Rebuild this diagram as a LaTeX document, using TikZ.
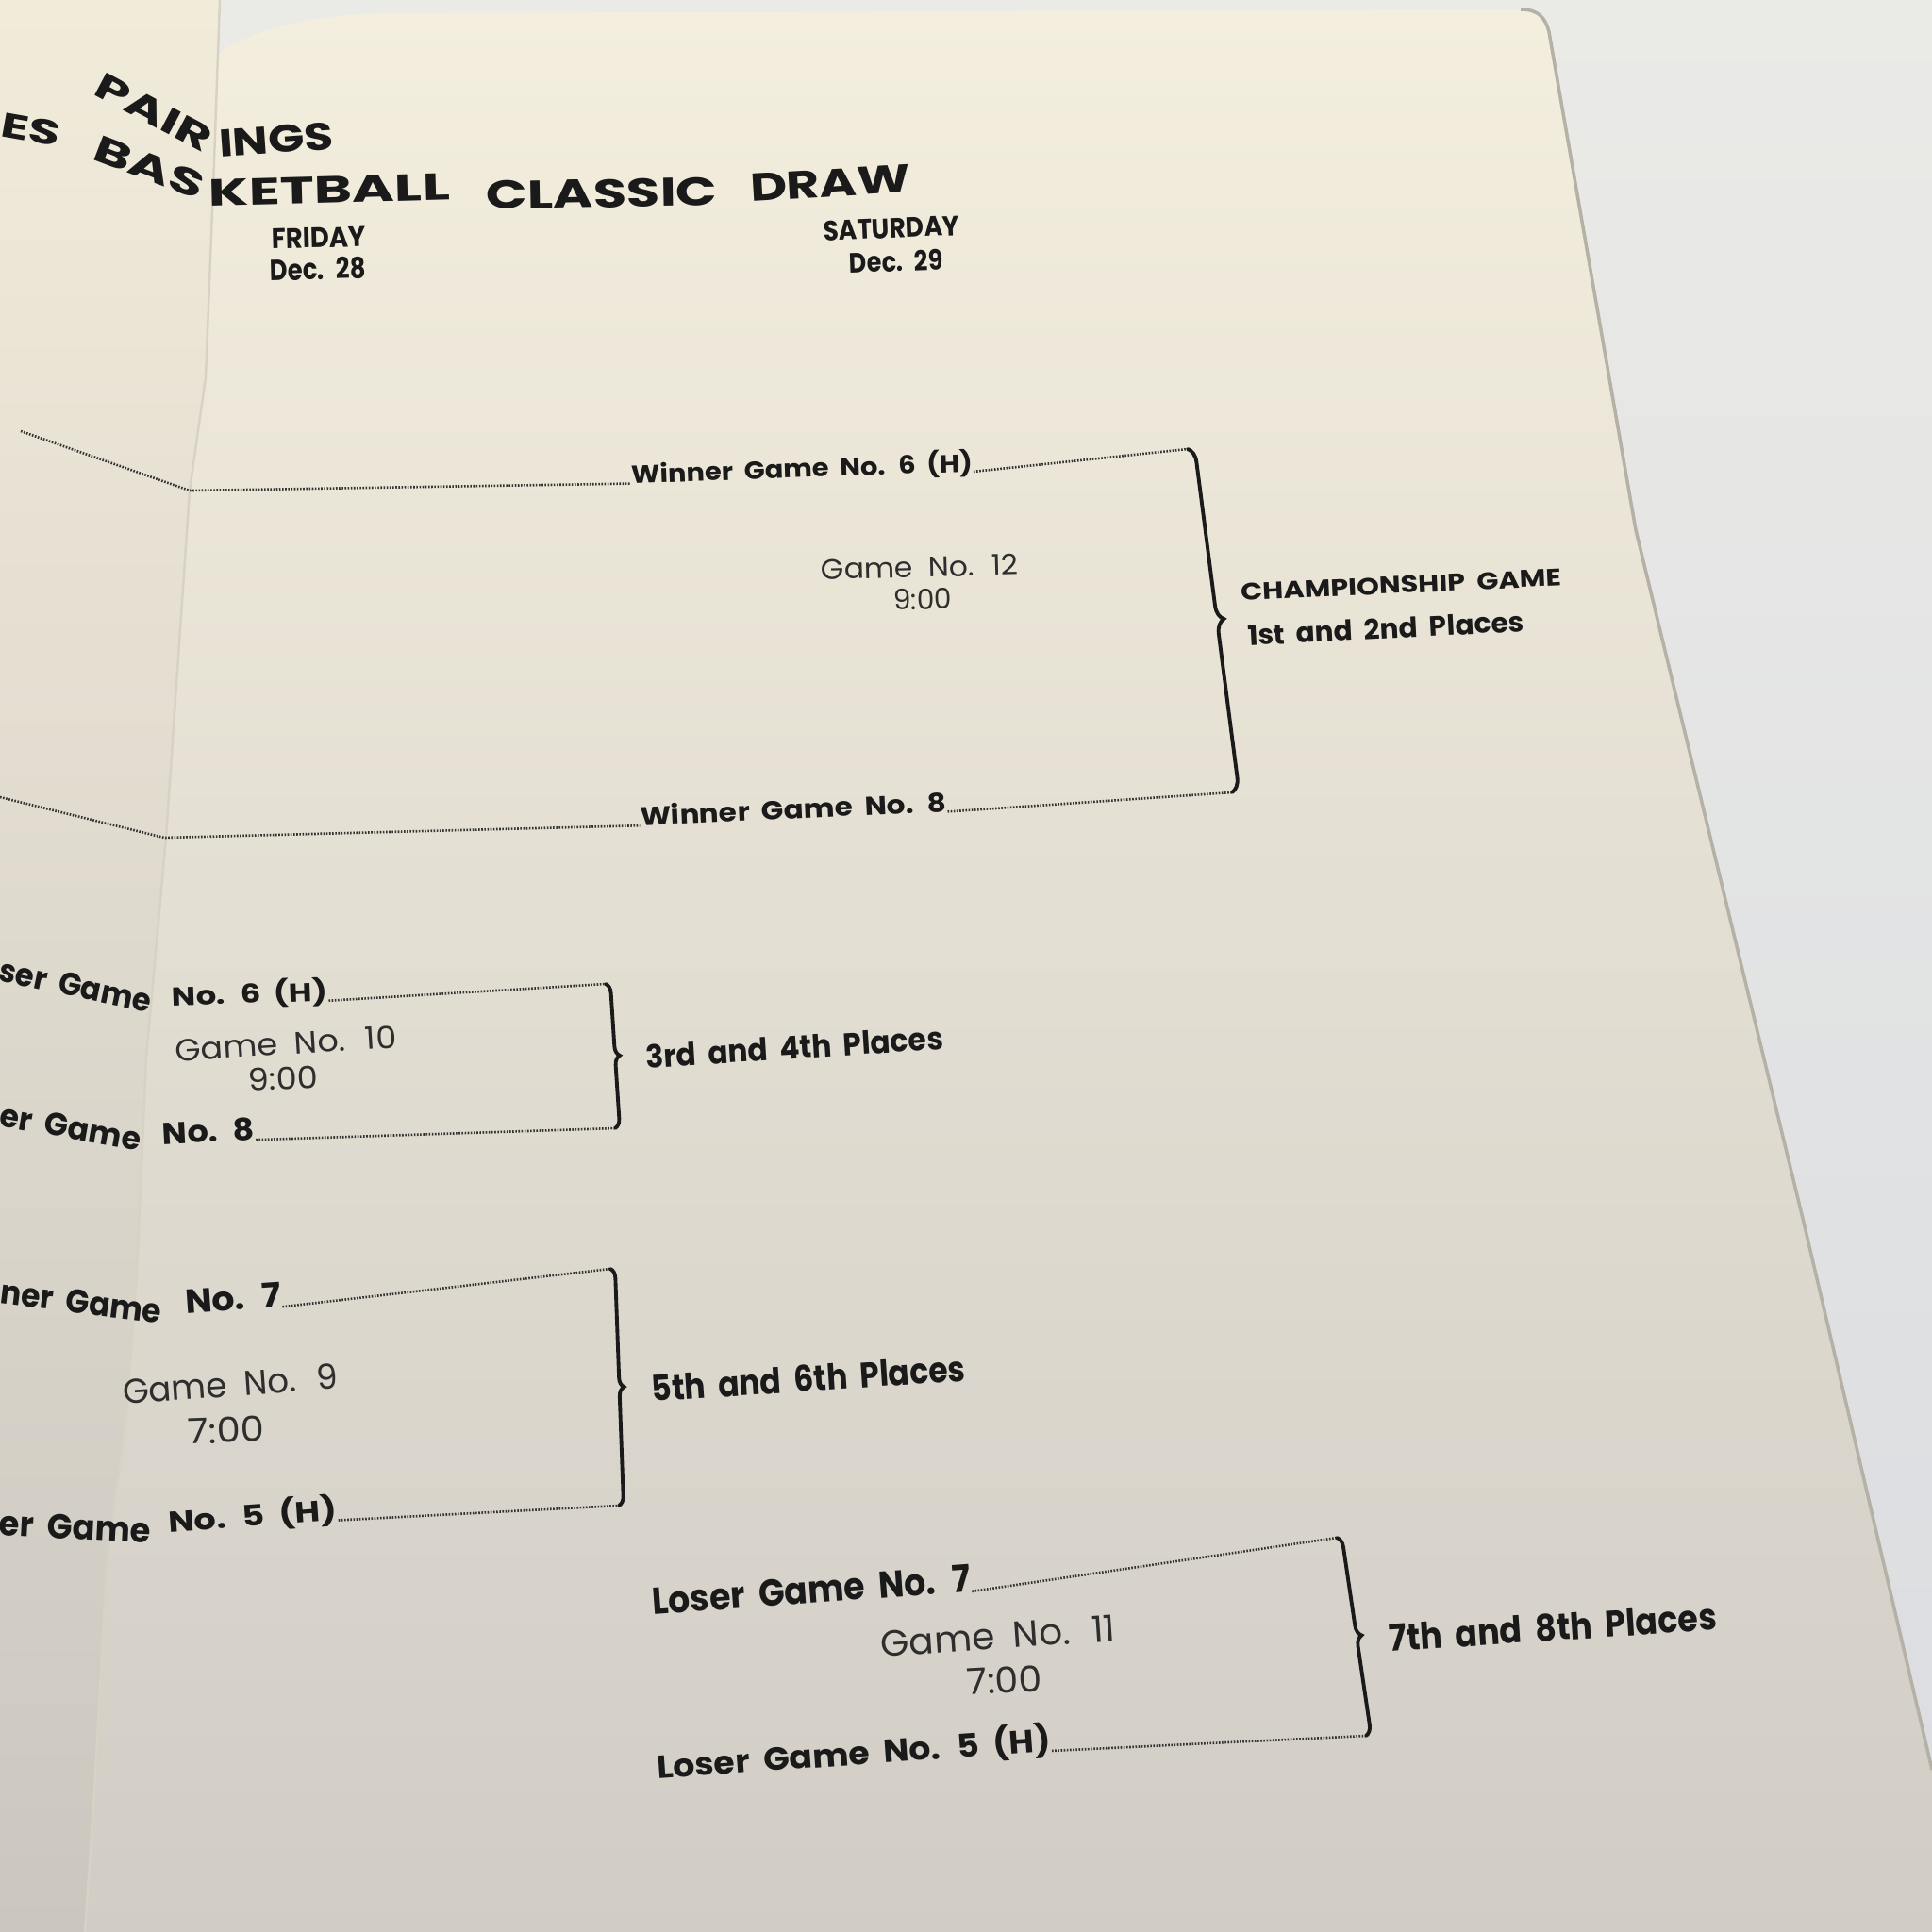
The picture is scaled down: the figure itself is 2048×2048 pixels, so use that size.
\documentclass[tikz,border=0pt]{standalone}
\usepackage{fontspec}
\usepackage{graphicx}
\setmainfont{Poppins}[WordSpace=1.9]
\usetikzlibrary{decorations.pathreplacing}
\definecolor{ink}{HTML}{1A1A1A}
\definecolor{inkreg}{HTML}{2E2E2E}
\definecolor{dotc}{HTML}{333333}
\definecolor{bgtop}{HTML}{EAEAE7}
\definecolor{bgbot}{HTML}{DADCE0}
\definecolor{pagetop}{HTML}{F3EEDD}
\definecolor{pagebot}{HTML}{D1CDC6}
\definecolor{lefttop}{HTML}{F1EBDA}
\definecolor{leftbot}{HTML}{CBC7C0}
\definecolor{foldc}{HTML}{D8D2C4}
\definecolor{edgec}{HTML}{B5B1A6}
\newcommand\fitbox[3]{\resizebox{#1mm}{#2mm}{#3}}
\begin{document}
\begin{tikzpicture}[x=0.1mm,y=-0.1mm,
  bl/.style={inner sep=0pt, text=ink, font=\bfseries},
  rg/.style={inner sep=0pt, text=inkreg},
  dotline/.style={draw=dotc, line width=0.75pt, dash pattern=on 0.45pt off 0.45pt},
  bracket/.style={draw=ink, line width=1.1pt, line cap=round, decorate, decoration={brace, amplitude=#1}},
]
\useasboundingbox (0,0) rectangle (2048,2048);
% table background
\shade[top color=bgtop, bottom color=bgbot] (0,0) rectangle (2048,2048);
% right page
\shade[top color=pagetop, bottom color=pagebot]
  (232,57) .. controls (262,34) and (320,17) .. (400,14) -- (1612,10)
  .. controls (1630,10) and (1638,18) .. (1642,34)
  -- (1734,562) -- (1913,1300) -- (2048,1876) -- (2048,2048) -- (90,2048)
  -- (100,1900) -- (113,1660) -- (134,1500) -- (145,1350) -- (155,1120) -- (176,888)
  -- (201,520) -- (218,400) -- (226,200) -- cycle;
% left page
\shade[top color=lefttop, bottom color=leftbot]
  (0,0) -- (233,0) -- (226,200) -- (218,400) -- (201,520) -- (176,888)
  -- (155,1120) -- (145,1350) -- (134,1500) -- (113,1660) -- (100,1900) -- (90,2048)
  -- (0,2048) -- cycle;
% fold and page edge
\draw[foldc, line width=0.7pt] (233,0) -- (226,200) -- (218,400) -- (201,520) -- (176,888)
  -- (155,1120) -- (145,1350) -- (134,1500) -- (113,1660) -- (100,1900) -- (90,2048);
\draw[edgec, line width=1pt] (1612,10) .. controls (1630,10) and (1638,18) .. (1642,34)
  -- (1734,562) -- (1913,1300) -- (2048,1876);

% ---------- title ----------
\node[bl, rotate=-10] (tES) at (33,137) {\fitbox{6.3}{2.6}{ES}};
\node[bl, rotate=-28] (tPAIR) at (163,119) {\fitbox{13.4}{2.7}{PAIR}};
\node[bl, rotate=4] (tINGS) at (293,148) {\fitbox{12.2}{2.9}{INGS}};
\node[bl, rotate=-21] (tBAS) at (158,177) {\fitbox{12.2}{2.8}{BAS}};
\node[bl, rotate=1.5] (tKET) at (349,201) {\fitbox{25.6}{2.8}{KETBALL}};
\node[bl, rotate=1] (tCLA) at (638,205) {\fitbox{24.5}{3.0}{CLASSIC}};
\node[bl, rotate=3.4] (tDRAW) at (880,194) {\fitbox{17.0}{2.9}{DRAW}};
\node[bl, rotate=1.5] (fri) at (338,252) {\fitbox{10.0}{2.1}{FRIDAY}};
\node[bl, rotate=1.5] (d28) at (337,285) {\fitbox{10.1}{2.3}{Dec. 28}};
\node[bl, rotate=2.4] (sat) at (945,242) {\fitbox{14.4}{2.1}{SATURDAY}};
\node[bl, rotate=2] (d29) at (950,277) {\fitbox{9.9}{2.2}{Dec. 29}};

% ---------- championship ----------
\node[bl, rotate=2] (w6) at (850,497) {\fitbox{36.2}{2.4}{Winner Game No. 6 (H)}};
\node[rg, rotate=1.5] (g12) at (975,601) {\fitbox{20.9}{2.2}{Game No. 12}};
\node[rg, rotate=1] (t12) at (978,635) {\fitbox{6.2}{2.2}{9:00}};
\node[bl, rotate=2.6] (w8) at (841,857) {\fitbox{32.5}{2.2}{Winner Game No. 8}};
\node[bl, rotate=2.7] (champ) at (1485,620) {\fitbox{34.0}{1.8}{CHAMPIONSHIP GAME}};
\node[bl, rotate=3] (p12) at (1469,666) {\fitbox{29.3}{2.2}{1st and 2nd Places}};
\coordinate (c1a) at (22,457);
\coordinate (c1b) at (201,520);
\coordinate (c2a) at (0,845);
\coordinate (c2b) at (174,888);
\coordinate (b1t) at (1259,476);
\coordinate (b1b) at (1306,840);
\draw[dotline] (c1a) -- (c1b) -- (w6.base west);
\draw[dotline] (w6.base east) -- (b1t);
\draw[dotline] (c2a) -- (c2b) -- (w8.base west);
\draw[dotline] (w8.base east) -- (b1b);
\draw[bracket=1.5mm] (b1t) -- (b1b);

% ---------- 3rd and 4th ----------
\node[bl, rotate=-12] (l6a) at (80,1045) {\fitbox{16.4}{2.4}{ser Game}};
\node[bl, rotate=2] (l6b) at (265,1054) {\fitbox{16.5}{2.5}{No. 6 (H)}};
\node[rg, rotate=3.5] (g10) at (303,1106) {\fitbox{23.5}{2.4}{Game No. 10}};
\node[rg, rotate=2] (t10) at (300,1143) {\fitbox{7.4}{2.4}{9:00}};
\node[bl, rotate=-10] (l8a) at (75,1195) {\fitbox{15.1}{2.4}{er Game}};
\node[bl, rotate=3] (l8b) at (221,1199) {\fitbox{9.8}{2.4}{No. 8}};
\node[bl, rotate=3.6] (p34) at (842,1110) {\fitbox{31.6}{2.5}{3rd and 4th Places}};
\coordinate (b2t) at (642,1043);
\coordinate (b2b) at (652,1196);
\draw[dotline] (l6b.base east) -- (b2t);
\draw[dotline] (l8b.base east) -- (b2b);
\draw[bracket=1.0mm] (b2t) -- (b2b);

% ---------- 5th and 6th ----------
\node[bl, rotate=-7] (w7a) at (86,1380) {\fitbox{17.2}{2.5}{ner Game}};
\node[bl, rotate=4] (w7b) at (247,1376) {\fitbox{10.2}{2.6}{No. 7}};
\node[rg, rotate=4] (g9) at (244,1467) {\fitbox{22.8}{2.7}{Game No. 9}};
\node[rg, rotate=2] (t9) at (240,1516) {\fitbox{8.1}{2.7}{7:00}};
\node[bl, rotate=-3] (l5a) at (80,1619) {\fitbox{16.1}{2.6}{er Game}};
\node[bl, rotate=4] (l5b) at (268,1607) {\fitbox{17.9}{2.8}{No. 5 (H)}};
\node[bl, rotate=3.8] (p56) at (857,1461) {\fitbox{33.3}{2.8}{5th and 6th Places}};
\coordinate (b3t) at (647,1345);
\coordinate (b3b) at (656,1596);
\draw[dotline] (w7b.base east) -- (b3t);
\draw[dotline] (l5b.base east) -- (b3b);
\draw[bracket=1.0mm] (b3t) -- (b3b);

% ---------- 7th and 8th ----------
\node[bl, rotate=4.2] (lo7) at (860,1685) {\fitbox{33.8}{2.9}{Loser Game No. 7}};
\node[rg, rotate=3.9] (g11) at (1058,1734) {\fitbox{24.9}{2.8}{Game No. 11}};
\node[rg, rotate=3] (t11) at (1065,1781) {\fitbox{8.0}{2.8}{7:00}};
\node[bl, rotate=4.1] (lo5) at (905,1859) {\fitbox{41.8}{3.1}{Loser Game No. 5 (H)}};
\node[bl, rotate=3.8] (p78) at (1646,1725) {\fitbox{34.8}{2.9}{7th and 8th Places}};
\coordinate (b4t) at (1417,1630);
\coordinate (b4b) at (1448,1840);
\draw[dotline] (lo7.base east) -- (b4t);
\draw[dotline] (lo5.base east) -- (b4b);
\draw[bracket=1.1mm] (b4t) -- (b4b);
\end{tikzpicture}
\end{document}
